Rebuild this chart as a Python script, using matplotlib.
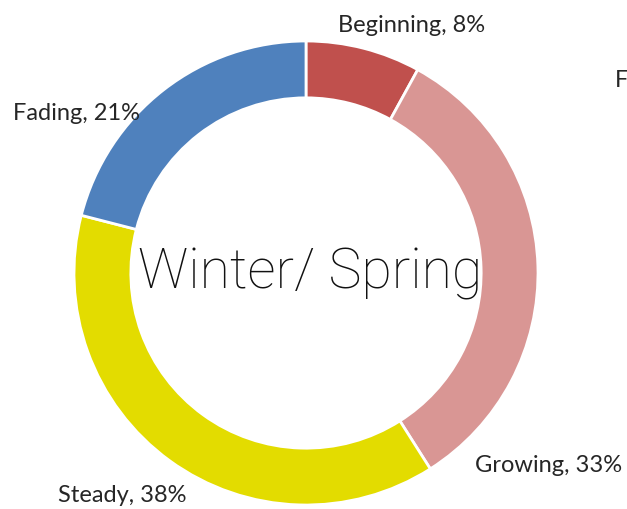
import matplotlib
matplotlib.use("Agg")
import matplotlib.pyplot as plt

# share of each stage, clockwise from 12 o'clock
stages = ["Beginning", "Growing", "Steady", "Fading"]
shares = [8, 33, 38, 21]
colors = ["#C0504D", "#D99694", "#E3DC00", "#4F81BD"]
title = "Winter/ Spring"

W, H = 627, 510
fig = plt.figure(figsize=(W / 100, H / 100), dpi=100)
fig.patch.set_facecolor("white")

# ring centred at (306, 274) px, outer radius 232 px
cx, cy, r = 306, 274, 232
ax = fig.add_axes([(cx - r) / W, (H - cy - r) / H, 2 * r / W, 2 * r / H])
ax.pie(shares, colors=colors, startangle=90, counterclock=False,
       radius=1.0,
       wedgeprops=dict(width=0.245, edgecolor="white", linewidth=2))
ax.set_xlim(-1, 1)
ax.set_ylim(-1, 1)
ax.set_aspect("equal")
ax.axis("off")

font = ["Lato", "DejaVu Sans"]

def px(x, y):
    return x / W, 1 - y / H

# label positions in pixels (left edge / baseline)
label_pos = {
    "Beginning": (338, 32),
    "Growing": (475, 472),
    "Steady": (58, 502),
    "Fading": (13, 120),
}
for name, val in zip(stages, shares):
    x, y = label_pos[name]
    fig.text(*px(x, y), f"{name}, {val}%", fontsize=17, family=font,
             color="#262626", ha="left", va="baseline")

# legend entry clipped at the right edge
fig.text(*px(615, 87), "F", fontsize=17, family=font, color="#262626",
         ha="left", va="baseline")

fig.text(*px(310, 288), title, fontsize=40, family=["Roboto", "Lato"],
         weight="light", color="#111111", ha="center", va="baseline")

fig.savefig("out.png", dpi=100, facecolor="white")
